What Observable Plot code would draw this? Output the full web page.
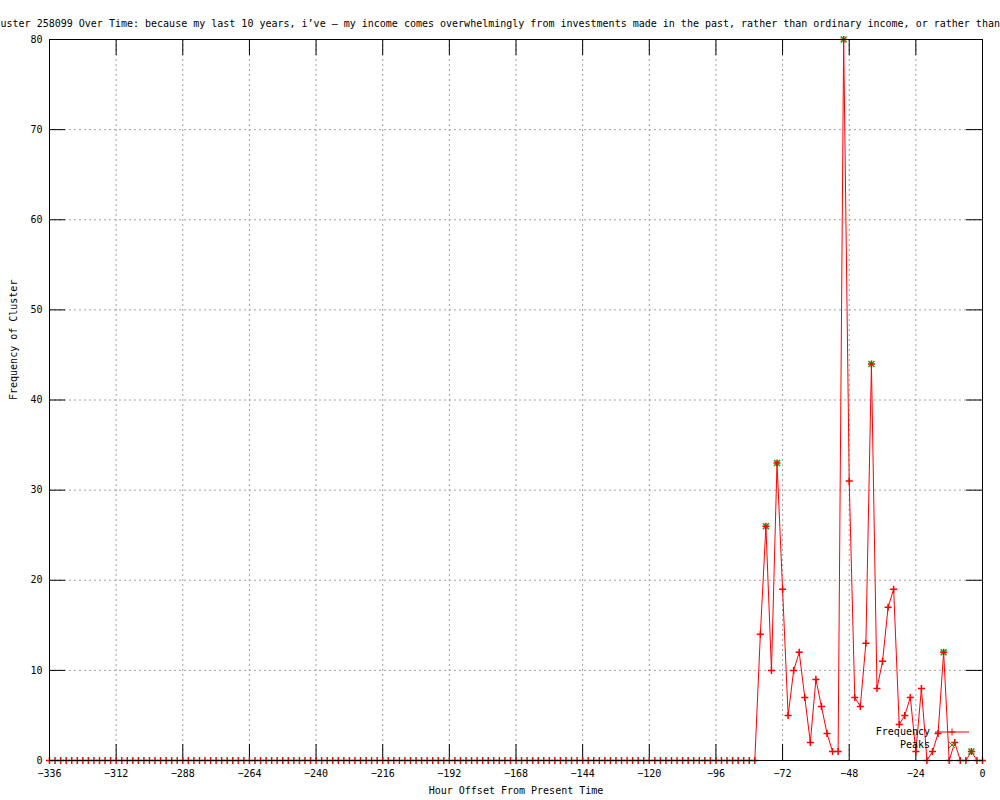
<!DOCTYPE html>
<html><head><meta charset="utf-8">
<script src="https://cdn.jsdelivr.net/npm/d3@7"></script>
<script src="https://cdn.jsdelivr.net/npm/@observablehq/plot@0.6"></script>
<style>body{margin:0;background:#fff}</style>
</head><body><div id="chart"></div>
<script>
const titleText = "Cluster 258099 Over Time: because my last 10 years, i’ve – my income comes overwhelmingly from investments made in the past, rather than ordinary income, or rather than";
const xLabel = "Hour Offset From Present Time";
const yLabel = "Frequency of Cluster";
const legendLabels = ["Frequency", "Peaks"];

const hours = [
  -336,-334,-332,-330,-328,-326,-324,-322,-320,-318,-316,-314,
  -312,-310,-308,-306,-304,-302,-300,-298,-296,-294,-292,-290,
  -288,-286,-284,-282,-280,-278,-276,-274,-272,-270,-268,-266,
  -264,-262,-260,-258,-256,-254,-252,-250,-248,-246,-244,-242,
  -240,-238,-236,-234,-232,-230,-228,-226,-224,-222,-220,-218,
  -216,-214,-212,-210,-208,-206,-204,-202,-200,-198,-196,-194,
  -192,-190,-188,-186,-184,-182,-180,-178,-176,-174,-172,-170,
  -168,-166,-164,-162,-160,-158,-156,-154,-152,-150,-148,-146,
  -144,-142,-140,-138,-136,-134,-132,-130,-128,-126,-124,-122,
  -120,-118,-116,-114,-112,-110,-108,-106,-104,-102,-100,-98,
  -96,-94,-92,-90,-88,-86,-84,-82,
  -80,-78,-76,-74,-72,-70,-68,-66,-64,-62,-60,-58,
  -56,-54,-52,-50,-48,-46,-44,-42,-40,-38,-36,-34,
  -32,-30,-28,-26,-24,-22,-20,-18,-16,-14,-12,-10,
  -8,-6,-4,-2,0
];
const frequency = [
  0,0,0,0,0,0,0,0,0,0,0,0,
  0,0,0,0,0,0,0,0,0,0,0,0,
  0,0,0,0,0,0,0,0,0,0,0,0,
  0,0,0,0,0,0,0,0,0,0,0,0,
  0,0,0,0,0,0,0,0,0,0,0,0,
  0,0,0,0,0,0,0,0,0,0,0,0,
  0,0,0,0,0,0,0,0,0,0,0,0,
  0,0,0,0,0,0,0,0,0,0,0,0,
  0,0,0,0,0,0,0,0,0,0,0,0,
  0,0,0,0,0,0,0,0,0,0,0,0,
  0,0,0,0,0,0,0,0,
  14,26,10,33,19,5,10,12,7,2,9,6,
  3,1,1,80,31,7,6,13,44,8,11,17,
  19,4,5,7,1,8,0,1,3,12,0,2,
  0,0,1,0,0
];
const peakHours = [-78, -74, -50, -40, -14, -4];
const peakValues = [26, 33, 80, 44, 12, 1];

const xTicks = [-336,-312,-288,-264,-240,-216,-192,-168,-144,-120,-96,-72,-48,-24,0];
const yTicks = [0,10,20,30,40,50,60,70,80];

const W = 1000, H = 800, mt = 39, mr = 18, mb = 40, ml = 49;
const ph = H - mt - mb, pw = W - ml - mr;
const RED = "#ff0000", GREEN = "#00b000", GRID = "#a0a0a0";
const FONT = "'DejaVu Sans Mono', monospace";

const freqData = hours.map((h, i) => ({h, v: frequency[i]}));
const peakData = peakHours.map((h, i) => ({h, v: peakValues[i]}));

function legend(index, scales, values, dims) {
  const g = d3.create("svg:g").attr("font-family", FONT).attr("font-size", 10);
  const rx = dims.width - dims.marginRight;
  const by = dims.height - dims.marginBottom;
  const rows = [by - 28, by - 15];
  g.append("text").attr("x", rx - 52).attr("y", rows[0]).attr("dy", "0.32em")
    .attr("text-anchor", "end").text(legendLabels[0]);
  g.append("text").attr("x", rx - 52).attr("y", rows[1]).attr("dy", "0.32em")
    .attr("text-anchor", "end").text(legendLabels[1]);
  g.append("line").attr("x1", rx - 47).attr("x2", rx - 13).attr("y1", rows[0]).attr("y2", rows[0])
    .attr("stroke", RED);
  g.append("path").attr("d", d3.symbol(d3.symbolPlus, 18)())
    .attr("transform", `translate(${rx - 30},${rows[0]})`).attr("stroke", RED).attr("fill", "none");
  g.append("path").attr("d", d3.symbol(d3.symbolTimes, 25)())
    .attr("transform", `translate(${rx - 30},${rows[1]})`).attr("stroke", GREEN).attr("fill", "none");
  return g.node();
}

const chart = Plot.plot({
  width: W, height: H,
  marginTop: mt, marginRight: mr, marginBottom: mb, marginLeft: ml,
  style: {fontFamily: FONT, fontSize: "10px", background: "#fff", color: "#000"},
  x: {domain: [-336, 0], label: null},
  y: {domain: [0, 80], label: null},
  marks: [
    Plot.ruleX(xTicks, {x: d => d, stroke: GRID, strokeDasharray: "2,3"}),
    Plot.ruleY(yTicks, {y: d => d, stroke: GRID, strokeDasharray: "2,3"}),
    Plot.ruleX(xTicks, {x: d => d, insetTop: ph - 16, stroke: "#000"}),
    Plot.ruleX(xTicks, {x: d => d, insetBottom: ph - 16, stroke: "#000"}),
    Plot.ruleY(yTicks, {y: d => d, insetRight: pw - 16, stroke: "#000"}),
    Plot.ruleY(yTicks, {y: d => d, insetLeft: pw - 16, stroke: "#000"}),
    Plot.axisX({ticks: xTicks, tickSize: 0, tickPadding: 9, label: null, fontSize: 10}),
    Plot.axisY({ticks: yTicks, tickSize: 0, tickPadding: 7, label: null, fontSize: 10}),
    Plot.line(freqData, {x: "h", y: "v", stroke: RED, strokeWidth: 1}),
    Plot.dot(peakData, {x: "h", y: "v", symbol: "times", stroke: GREEN, fill: "none", r: 2.8}),
    Plot.dot(freqData, {x: "h", y: "v", symbol: "plus", stroke: RED, fill: "none", r: 2.4}),
    Plot.frame({stroke: "#000"}),
    Plot.text([titleText], {text: d => d, frameAnchor: "top-left", textAnchor: "start", dx: -61, dy: -20, fontSize: 10}),
    Plot.text([xLabel], {text: d => d, frameAnchor: "bottom", dy: 33, fontSize: 10}),
    Plot.text([yLabel], {text: d => d, frameAnchor: "left", rotate: -90, dx: -36, fontSize: 10}),
    legend
  ]
});
document.getElementById("chart").appendChild(chart);
</script>
</body></html>
